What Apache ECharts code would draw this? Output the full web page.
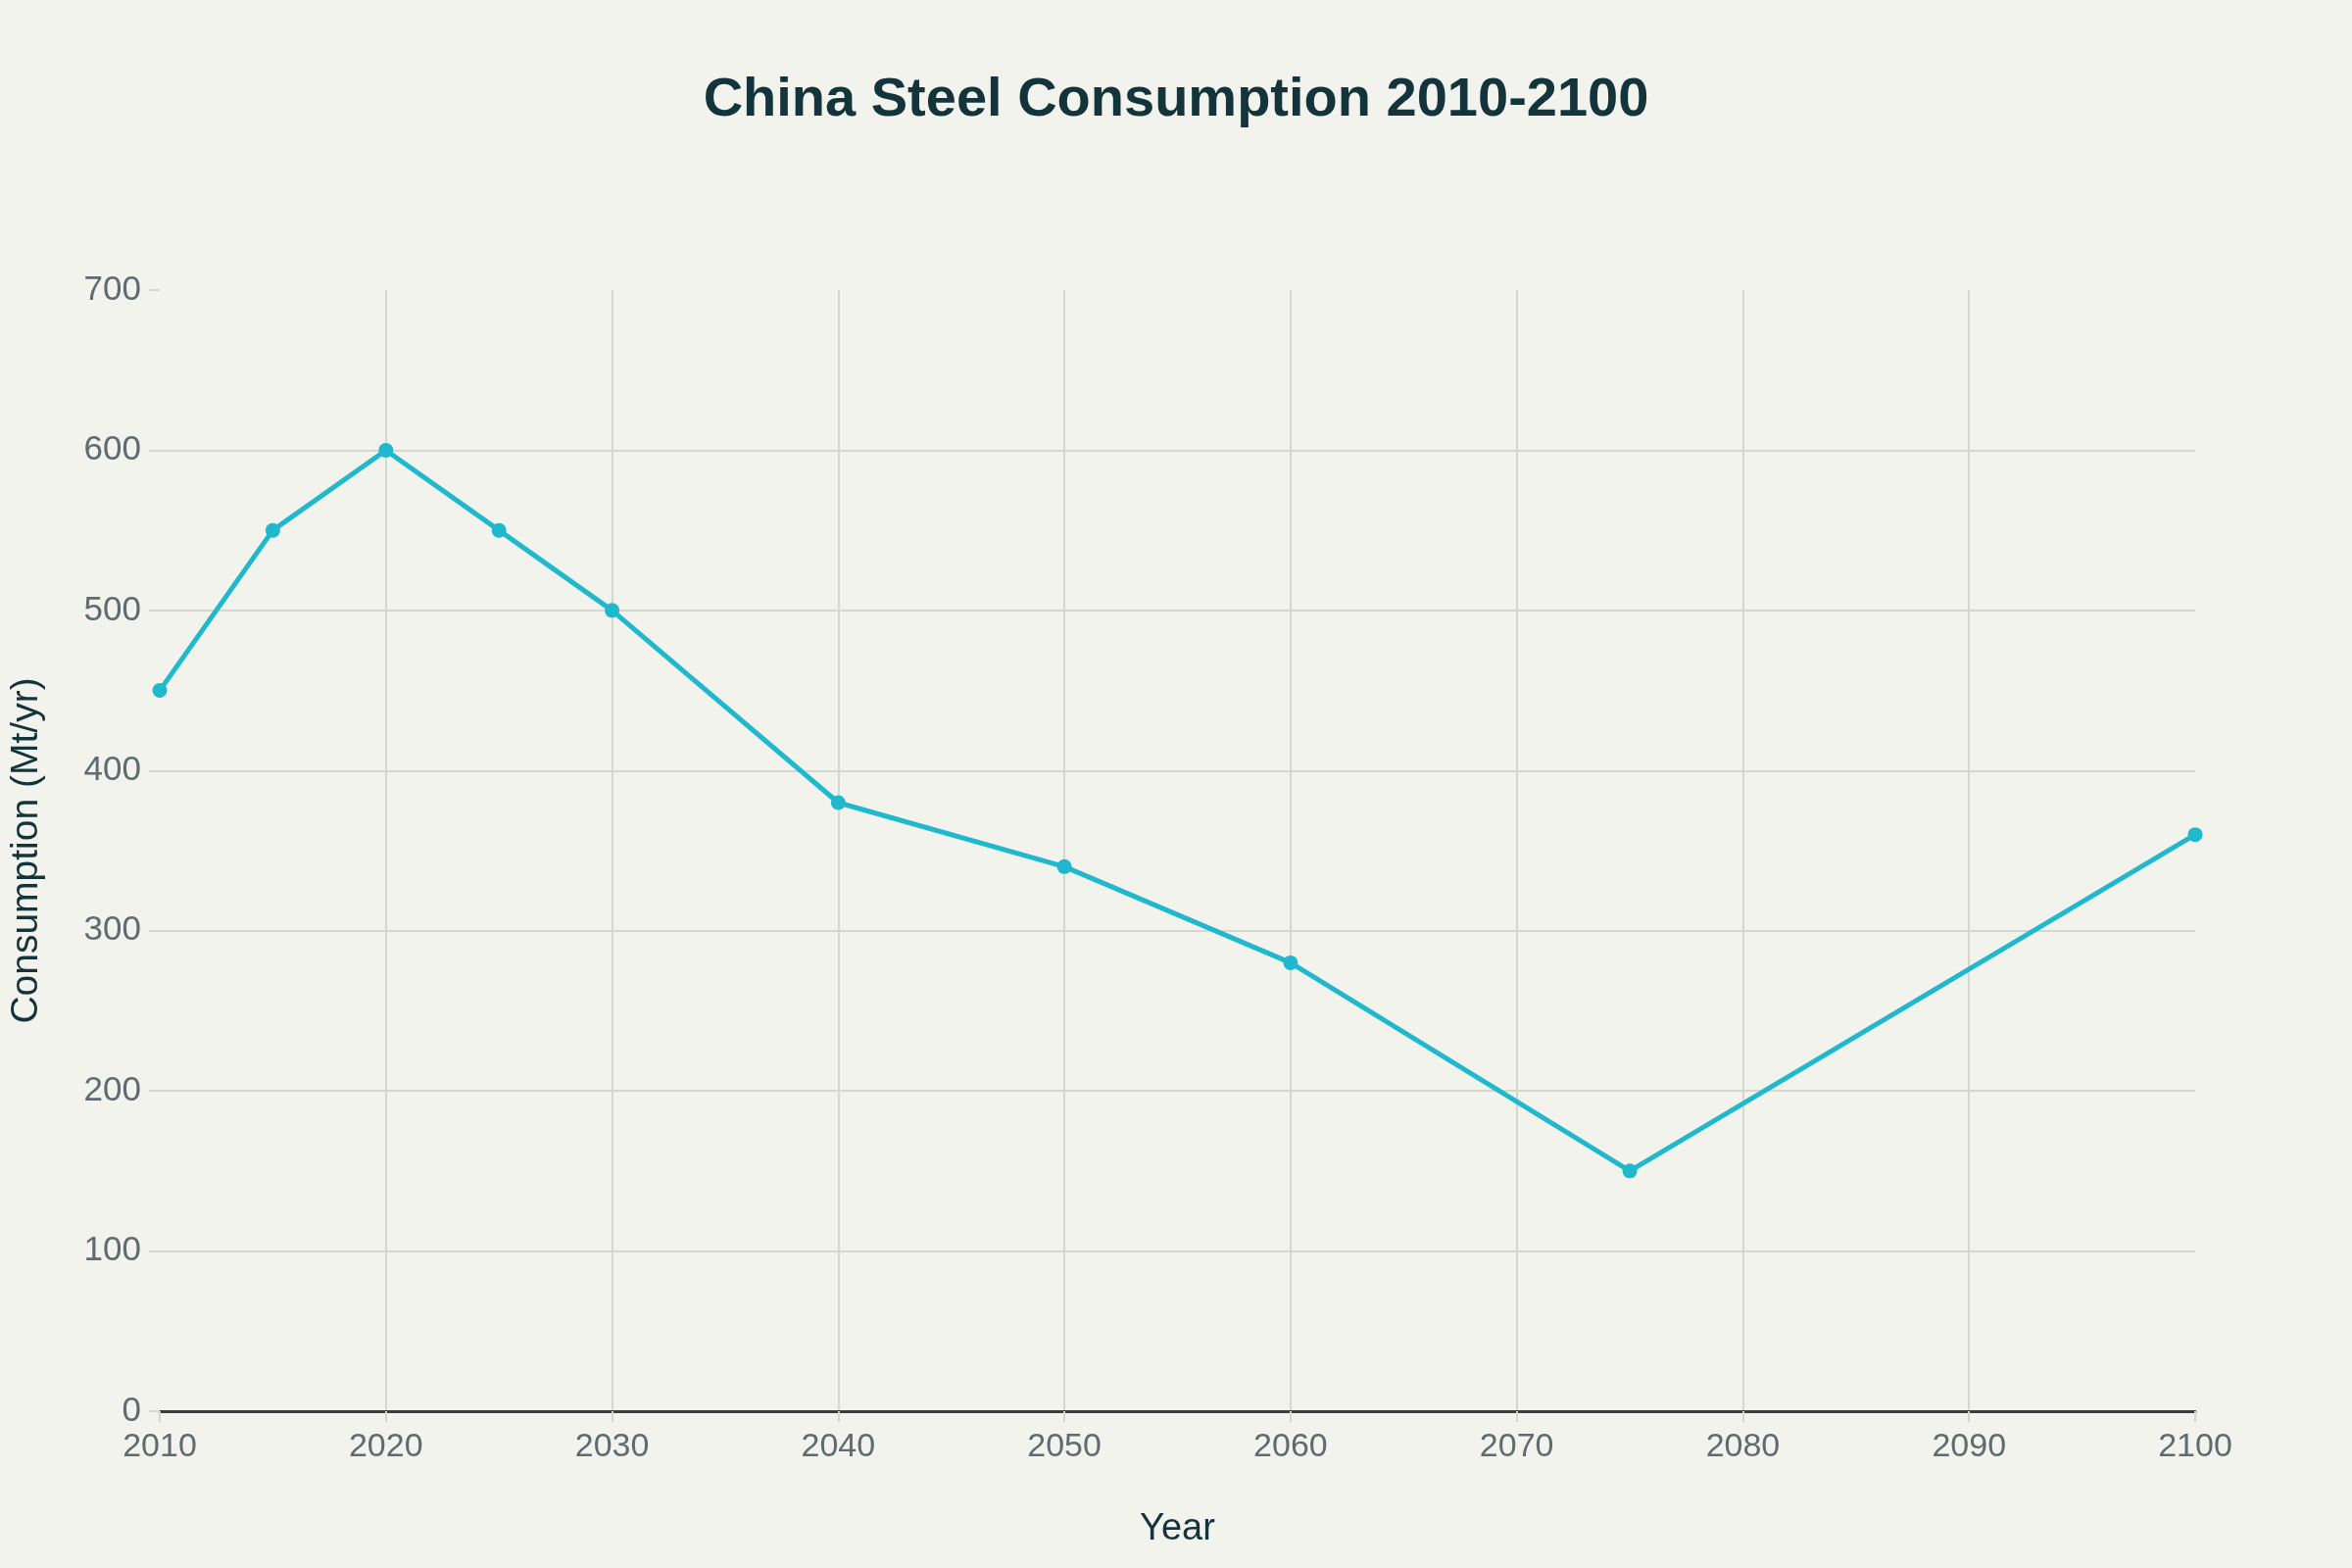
<!DOCTYPE html>
<html><head><meta charset="utf-8">
<script src="https://cdn.jsdelivr.net/npm/echarts@6/dist/echarts.min.js"></script>
<style>html,body{margin:0;padding:0;background:#F3F3EE;}#c{width:2400px;height:1600px;}</style>
</head><body><div id="c"></div>
<script>
const years = [2010, 2015, 2020, 2025, 2030, 2040, 2050, 2060, 2075, 2100];
const consumption = [450, 550, 600, 550, 500, 380, 340, 280, 150, 360];
const titleText = 'China Steel Consumption 2010-2100';
const xName = 'Year';
const yName = 'Consumption (Mt/yr)';

const FONT = '"Liberation Sans", Arial, sans-serif';
const chart = echarts.init(document.getElementById('c'), null, {renderer: 'canvas'});
chart.setOption({
  backgroundColor: '#F3F3EE',
  animation: false,
  title: {
    text: titleText, left: 'center', top: 70,
    textStyle: {fontFamily: FONT, fontSize: 56, fontWeight: 'bold', color: '#13343B'}
  },
  grid: {left: 162, right: 160, top: 296, bottom: 160, containLabel: false},
  xAxis: {
    type: 'value', min: 2010, max: 2100, interval: 10,
    name: xName, nameLocation: 'middle', nameGap: 102,
    nameTextStyle: {fontFamily: FONT, fontSize: 38, color: '#13343B', verticalAlign: 'top'},
    axisLine: {show: true, onZero: false, lineStyle: {color: '#3C3C3C', width: 3}},
    axisTick: {show: true, length: 11, lineStyle: {color: '#D6D6D1', width: 2}},
    axisLabel: {fontFamily: FONT, fontSize: 34, color: '#5F6B70', margin: 20, formatter: v => String(v)},
    splitLine: {show: true, showMinLine: false, showMaxLine: false, lineStyle: {color: '#D6D6D1', width: 2}}
  },
  yAxis: {
    type: 'value', min: 0, max: 700, interval: 100,
    name: yName, nameLocation: 'middle', nameGap: 116,
    nameTextStyle: {fontFamily: FONT, fontSize: 39, color: '#13343B'},
    axisLine: {show: false},
    axisTick: {show: true, length: 11, lineStyle: {color: '#D6D6D1', width: 2}},
    axisLabel: {fontFamily: FONT, fontSize: 35, color: '#5F6B70', margin: 19},
    splitLine: {show: true, showMinLine: false, showMaxLine: false, lineStyle: {color: '#D6D6D1', width: 2}}
  },
  series: [{
    type: 'line',
    data: years.map((y, i) => [y, consumption[i]]),
    symbol: 'circle', symbolSize: 15,
    lineStyle: {color: '#1FB8CD', width: 5},
    itemStyle: {color: '#1FB8CD'},
    z: 5
  }]
});
</script></body></html>
